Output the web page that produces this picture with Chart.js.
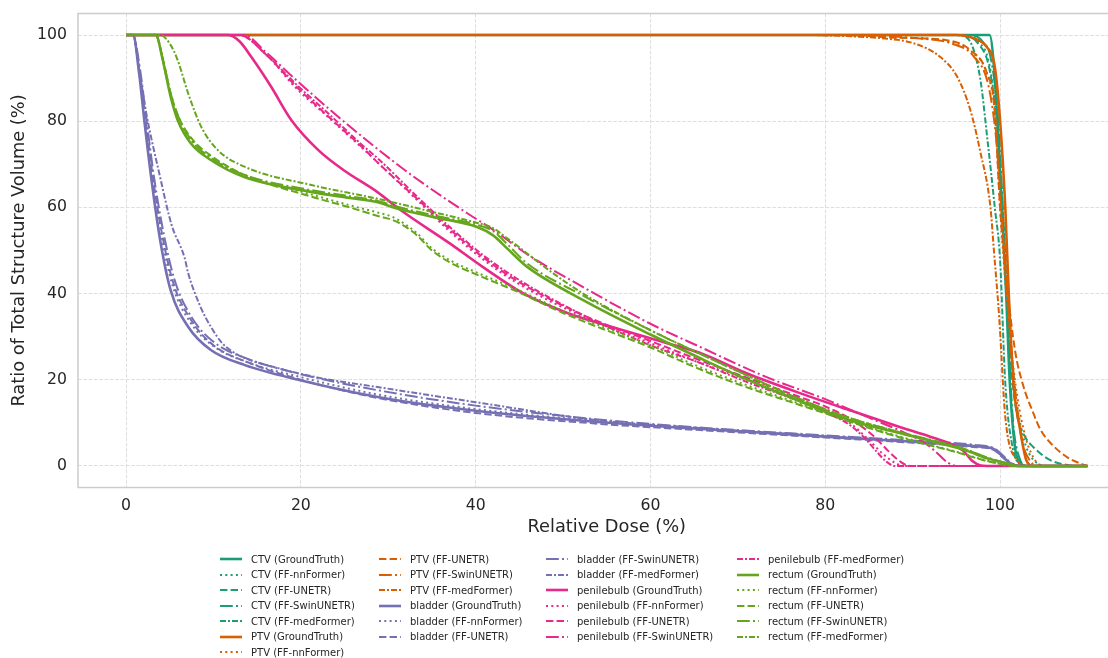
<!DOCTYPE html>
<html>
<head>
<meta charset="utf-8">
<script src="https://cdn.jsdelivr.net/npm/chart.js@4/dist/chart.umd.min.js"></script>
<style>
  html, body { margin: 0; padding: 0; overflow: hidden; background: #fff; width: 1108px; height: 658px; }
  #wrap { position: absolute; left: 0; top: 0; }
  #legend { position: absolute; left: 0; top: 0; width: 1108px; height: 658px; pointer-events: none; }
  .item { position: absolute; height: 14px; display: flex; align-items: center; font: 10px "DejaVu Sans", sans-serif; color: #262626; white-space: nowrap; }
  .item svg { margin-right: 9px; }
</style>
</head>
<body>
<div id="wrap"><canvas id="dvh" width="1140" height="545"></canvas></div>
<div id="legend"></div>
<script>
// dose (%) / volume (%) pairs
const structures = ['CTV', 'PTV', 'bladder', 'penilebulb', 'rectum'];
const models = ['GroundTruth', 'FF-nnFormer', 'FF-UNETR', 'FF-SwinUNETR', 'FF-medFormer'];
const xTicks = [0, 20, 40, 60, 80, 100];
const yTicks = [0, 20, 40, 60, 80, 100];

const ctvGroundTruth = [[0,100],[98.8,100],[99.4,90],[100.2,60],[100.7,40],[101.1,20],[101.7,4.5],[102.3,0.7],[103,0],[110,0]];
const ctvNnFormer = [[0,100],[96,100],[97.5,98.5],[98.8,93],[99.6,80],[100.3,60],[101,35],[101.7,18],[102.3,10],[103,4.4],[104.2,0.7],[105.5,0],[110,0]];
const ctvUnetr = [[0,100],[95.5,100],[97.5,98],[98.8,92],[99.7,78],[100.4,55],[101.2,25],[101.9,12.3],[102.8,7],[103.8,4.4],[105.7,1.4],[107.7,0.2],[108.5,0],[110,0]];
const ctvSwin = [[0,100],[96.5,100],[98,98.5],[99,94],[99.8,80],[100.5,52],[101,28],[101.5,10],[102.2,2],[103,0],[110,0]];
const ctvMed = [[0,100],[95,100],[96.3,99.2],[97.7,90.3],[98.6,75],[99.4,60],[100,48],[100.6,19.3],[101.5,3.7],[102.3,0.5],[103,0],[110,0]];

const ptvGroundTruth = [[0,100],[95,100],[96.9,99.3],[98.5,97.2],[99.4,92.6],[100,80.3],[100.6,60],[101,40],[101.5,20],[102.3,8.4],[103,1.4],[103.8,0],[110,0]];
const ptvNnFormer = [[0,100],[82,100],[88,99.5],[93,98.8],[96.5,96.5],[98.5,91],[99.4,82],[100,60],[100.8,38],[101.7,20],[102.7,8.4],[103.8,2],[105,0],[110,0]];
const ptvUnetr = [[0,100],[82,100],[88,99.4],[93.9,98.8],[96.6,96.5],[98.5,91.2],[99.4,82.6],[100,60.1],[100.8,42],[101.7,27],[102.6,19],[103.8,12.3],[104.6,8.5],[105.7,5.5],[107.7,2],[109.7,0.2],[110,0]];
const ptvSwin = [[0,100],[84,100],[90,99.3],[94.5,98],[97,95],[98.7,88],[99.6,75],[100.3,55],[101,35],[101.7,18],[102.5,6],[103.5,1],[104.5,0],[110,0]];
const ptvMed = [[0,100],[78,100],[84,99.6],[86.3,99.3],[90.1,98.1],[93.1,95],[95.1,90.3],[96.6,82.6],[97.7,73.3],[98.9,60.1],[99.3,50],[99.9,34.6],[100.6,11.4],[101.9,1.4],[103,0],[110,0]];

const bladderGroundTruth = [[0,100],[0.8,100],[1.5,91],[2.1,80],[3,65],[3.9,52.4],[5.1,40.8],[7.1,32.3],[9.7,26.9],[13.6,23.4],[19.7,20],[28.8,16],[40,12.8],[54,10.2],[65,8.7],[80,6.8],[90,5.6],[97,4.6],[99.3,3.9],[100.3,2.2],[101.2,0.6],[102.2,0],[110,0]];
const bladderNnFormer = [[0,100],[0.8,100],[1.5,92],[2.2,80],[3.1,66],[4,54],[5.3,42],[7.3,33.5],[10,27.8],[14,24],[20,20.6],[29,16.5],[40,13.2],[54,10.4],[65,8.8],[80,6.9],[90,5.7],[97,4.7],[99.3,4],[100.4,2.2],[101.3,0.5],[102.3,0],[110,0]];
const bladderUnetr = [[0,100],[0.8,100],[1.5,92],[2.2,81],[3.1,66.5],[4.1,54],[5.4,42.5],[7.4,34],[10,28],[14,24],[20,20],[29,15.7],[40,12.3],[54,9.8],[65,8.4],[80,6.6],[90,5.4],[97,4.4],[99.3,3.7],[100.3,2],[101.2,0.5],[102.2,0],[110,0]];
const bladderSwin = [[0,100],[0.8,100],[1.6,92],[2.3,81],[3.2,67],[4.2,55],[5.5,43.5],[7.5,34.5],[10.2,28.5],[14,24.8],[20,21.3],[29,17.5],[40,14],[54,10.8],[65,9],[80,7.1],[90,5.9],[97,4.9],[99.3,4.1],[100.4,2.3],[101.3,0.6],[102.3,0],[110,0]];
const bladderMed = [[0,100],[0.8,100],[1.5,92],[2.3,82],[3.9,67],[5.2,56],[6.7,48.3],[7.1,44.8],[8.5,37],[9.7,32.3],[11,28.5],[12.8,25.8],[17.4,22.7],[22,20.5],[28.8,18.3],[40,14.8],[54,10.6],[65,8.9],[80,6.9],[90,5.7],[97,4.6],[99.3,3.9],[100.3,2.1],[101.2,0.5],[102.2,0],[110,0]];

const penileGroundTruth = [[0,100],[11.7,100],[13,98.5],[14.3,95],[16.6,88],[18.9,80.3],[22,73.3],[25,68.5],[28.8,63.5],[31.4,59.4],[37,51.7],[40.8,46.2],[45.4,40.1],[50.5,35.5],[56,32],[61.9,28.5],[65.7,26.2],[71,21.5],[77.1,16.9],[83,12.8],[88.6,9],[92,6.8],[94.5,5],[95.8,3.5],[96.8,1.2],[97.8,0.1],[98.5,0],[110,0]];
const penileNnFormer = [[0,100],[13,100],[15.9,95.8],[19.3,88],[23.1,81],[26.9,74],[28.6,70.8],[33.3,61.7],[37,54.5],[40.8,48],[44.7,42.5],[52.3,34.6],[60,28.5],[65.7,23.9],[71,20],[77.1,15.5],[80,13],[82.8,10],[85,6],[86.5,3],[88,0.7],[89,0],[110,0]];
const penileUnetr = [[0,100],[13,100],[16,95.5],[19.5,88],[23.2,81],[27,74],[29,70],[33.3,62],[37,55],[40.8,48.5],[44.7,43],[52.3,35],[60,29],[65.7,24.5],[71,20.5],[77.1,16],[80,13.8],[82.8,11],[85.5,7],[87.2,3.5],[88.6,1],[89.7,0],[110,0]];
const penileSwin = [[0,100],[13.5,100],[16,96],[19.5,89.5],[24,81.5],[28.5,74],[33,67],[39,58.7],[42,54.8],[46,49],[52.3,41.5],[60,33],[65.7,27.6],[73.3,20.6],[80,15.5],[85,11.2],[89,7.8],[91.5,5.2],[92.8,3],[94,0.8],[95,0],[110,0]];
const penileMed = [[0,100],[13,100],[16,95.5],[19.5,88.5],[23.3,81.5],[27,74.5],[29,71],[33.3,62.5],[37,55.5],[40.8,49],[44.7,43.5],[52.3,35],[60,28],[65.7,23.9],[71,19.5],[77.1,15],[80,12.5],[82.8,9.5],[84.5,6.5],[85.8,3.5],[87,1],[88,0],[110,0]];

const rectumGroundTruth = [[0,100],[3.4,100],[4.2,94.2],[5.1,85.7],[5.9,80.3],[7.4,74.9],[9.7,71],[13.6,67],[21.2,63.6],[25.6,62.2],[28.8,61.2],[30.6,60],[35.1,57.8],[40.1,55.5],[42,53.5],[43.6,50.5],[45.9,46.2],[52.3,38.5],[60,30.5],[65.7,25],[70,21],[77.1,15],[83,10.5],[88.6,7.6],[93,5.3],[96.2,3.5],[98.5,1.8],[101,0.5],[102,0],[110,0]];
const rectumNnFormer = [[0,100],[3.4,100],[4.2,94],[5.1,86],[6,80],[7.5,75.5],[9.7,71.5],[13.6,67.5],[21.2,63],[25.6,60.5],[28.8,58.8],[30.6,57.7],[32,56],[33.3,54],[35,50.5],[37,47.8],[40,45],[44.7,41],[50,36],[56.2,31],[60,28],[65,23.5],[70,19.5],[77,14.5],[80,12.4],[85,9],[90,6],[95,3.3],[98,1.5],[100.5,0.3],[101.5,0],[110,0]];
const rectumUnetr = [[0,100],[3.4,100],[4.2,94.5],[5.1,86.5],[6,81],[7.5,76],[9.7,72],[13.6,67.5],[21.2,62.5],[25.6,60],[28.8,58],[30.6,57],[32,55.5],[33.3,53.5],[35,50],[37,47.3],[40,44.5],[44.7,40.5],[50,35.5],[56.2,30.5],[60,27.5],[65,23],[70,19],[77,14.2],[80,12.2],[85,8.8],[90,5.8],[95,3.2],[98,1.4],[100.5,0.3],[101.5,0],[110,0]];
const rectumSwin = [[0,100],[3.4,100],[4.2,94.5],[5.1,86.5],[6,81],[7.5,75.5],[9.7,71.5],[13.6,67.5],[21.2,64],[25.6,62.6],[28.8,61.5],[30.6,60.4],[35.1,58.2],[40.1,56],[42,54.5],[43.6,51.5],[45.9,47],[52.3,39.5],[60,31.5],[65.7,26],[70,22],[77.1,15.5],[83,11],[88.6,7.8],[93,5.6],[96.2,3.8],[98.5,2],[101,0.5],[102,0],[110,0]];
const rectumMed = [[0,100],[3.9,100],[5,98],[5.9,94.2],[7.1,86.5],[8.6,78.7],[10.5,73.3],[13.6,69.4],[21.2,65.2],[28.8,62],[35,59],[40,56.5],[42,55.2],[43.5,53],[45.4,50.1],[48,46],[52.3,40],[60,31.5],[65.7,26],[70,22],[77.1,15.5],[83,11],[88.6,7.8],[93,5.5],[96.5,3.5],[99,1.5],[101,0.3],[102,0],[110,0]];

const curves = {
  CTV: [ctvGroundTruth, ctvNnFormer, ctvUnetr, ctvSwin, ctvMed],
  PTV: [ptvGroundTruth, ptvNnFormer, ptvUnetr, ptvSwin, ptvMed],
  bladder: [bladderGroundTruth, bladderNnFormer, bladderUnetr, bladderSwin, bladderMed],
  penilebulb: [penileGroundTruth, penileNnFormer, penileUnetr, penileSwin, penileMed],
  rectum: [rectumGroundTruth, rectumNnFormer, rectumUnetr, rectumSwin, rectumMed]
};

const colors = { CTV: '#1b9e77', PTV: '#d95f02', bladder: '#7570b3', penilebulb: '#e7298a', rectum: '#66a61e' };
const dashes = [[], [2, 3.3], [7.4, 3.2], [12.8, 3.2, 2, 3.2], [6, 2, 2, 2]];
const widths = [2.6, 2, 2, 2, 2];

let datasets = [];
structures.forEach(s => {
  models.forEach((m, j) => {
    let i = datasets.length;
    datasets.push({
      label: `${s} (${m})`,
      data: curves[s][j].map(p => ({ x: p[0], y: p[1] })),
      borderColor: colors[s],
      borderWidth: widths[j],
      borderDash: dashes[j],
      pointRadius: 0,
      fill: false,
      cubicInterpolationMode: 'monotone',
      order: 30 - i
    });
  });
});

const frame = {
  id: 'frame',
  afterDraw(chart) {
    let { ctx, chartArea: a } = chart;
    ctx.save();
    ctx.strokeStyle = '#cccccc';
    ctx.lineWidth = 1.5;
    ctx.strokeRect(a.left, a.top, a.right - a.left, a.bottom - a.top);
    ctx.restore();
  }
};

const tickFont = { family: 'DejaVu Sans', size: 15.7 };
const titleFont = { family: 'DejaVu Sans', size: 17.8 };
const gridOpts = { color: '#dedede', lineWidth: 1, drawTicks: false };

new Chart(document.getElementById('dvh').getContext('2d'), {
  type: 'line',
  data: { datasets },
  plugins: [frame],
  options: {
    responsive: false,
    animation: false,
    layout: { padding: { left: 0, right: 4.5, top: 13.5, bottom: 0 } },
    plugins: { legend: { display: false }, tooltip: { enabled: false } },
    scales: {
      x: {
        type: 'linear', min: -5.5, max: 115.5,
        afterBuildTicks: sc => { sc.ticks = xTicks.map(v => ({ value: v })); },
        afterFit: sc => { sc.height = 57.5; sc.paddingLeft = 0; sc.paddingRight = 0; },
        grid: gridOpts,
        border: { display: false, dash: [3.7, 1.6] },
        ticks: { font: tickFont, color: '#262626', padding: 9, maxRotation: 0 },
        title: { display: true, text: 'Relative Dose (%)', font: titleFont, color: '#262626', padding: { top: 0, bottom: 7 } }
      },
      y: {
        type: 'linear', min: -5, max: 105,
        afterBuildTicks: sc => { sc.ticks = yTicks.map(v => ({ value: v })); },
        afterFit: sc => { sc.width = 78; sc.paddingTop = 0; sc.paddingBottom = 0; },
        grid: gridOpts,
        border: { display: false, dash: [3.7, 1.6] },
        ticks: { font: tickFont, color: '#262626', padding: 11 },
        title: { display: true, text: 'Ratio of Total Structure Volume (%)', font: titleFont, color: '#262626', padding: { top: 9, bottom: 0 } }
      }
    }
  }
});

// legend laid out like matplotlib: 4 columns, filled column by column
const colX = [220, 379, 546, 737];
const rowY = [559, 574.5, 590, 605.5, 621, 636.5, 652];
const perCol = [7, 6, 6, 6];
let legend = document.getElementById('legend');
let k = 0;
perCol.forEach((n, c) => {
  for (let r = 0; r < n; r++, k++) {
    let d = datasets[k];
    let div = document.createElement('div');
    div.className = 'item';
    div.style.left = colX[c] + 'px';
    div.style.top = (rowY[r] - 7) + 'px';
    div.innerHTML = `<svg width="22" height="10"><line x1="0" y1="5" x2="22" y2="5" stroke="${d.borderColor}" stroke-width="${d.borderWidth}" stroke-dasharray="${d.borderDash.join(' ')}"/></svg><span>${d.label}</span>`;
    legend.appendChild(div);
  }
});
</script>
</body>
</html>
